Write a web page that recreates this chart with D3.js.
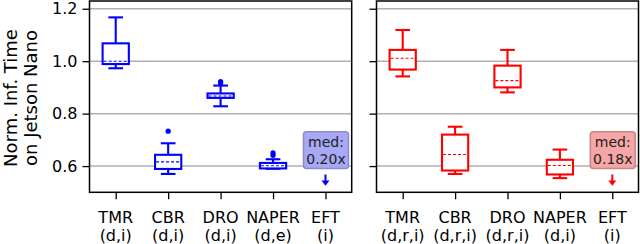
<!DOCTYPE html>
<html>
<head>
<meta charset="utf-8">
<script src="https://cdn.jsdelivr.net/npm/d3@7"></script>
<style>
  body { margin: 0; background: #fff; }
  svg { display: block; font-family: "DejaVu Sans", sans-serif; }
</style>
</head>
<body>
<div id="chart"></div>
<script>
// categories + sub labels
const categories = ["TMR", "CBR", "DRO", "NAPER", "EFT"];
const leftSub = ["(d,i)", "(d,i)", "(d,i)", "(d,e)", "(i)"];
const rightSub = ["(d,r,i)", "(d,r,i)", "(d,r,i)", "(d,i)", "(i)"];
const yTicks = [0.6, 0.8, 1.0, 1.2];

// box stats: [whisker low, q1, median, q3, whisker high]
const leftBoxes = [
  [0.973, 0.989, 1.000, 1.068, 1.167],
  [0.570, 0.589, 0.616, 0.643, 0.687],
  [0.828, 0.860, 0.867, 0.877, 0.907],
  [0.590, 0.591, 0.601, 0.612, 0.626],
  null
];
const leftOutliers = [[], [0.733], [0.917, 0.922], [0.641, 0.650], []];

const rightBoxes = [
  [0.942, 0.968, 1.011, 1.043, 1.119],
  [0.570, 0.583, 0.644, 0.720, 0.750],
  [0.881, 0.900, 0.926, 0.983, 1.043],
  [0.554, 0.568, 0.602, 0.624, 0.663],
  null
];
const rightOutliers = [[], [], [], [], []];

// EFT median lies far below the axis -> shown as a note
const leftNote = ["med:", "0.20x"];
const rightNote = ["med:", "0.18x"];

const W = 640, H = 244;
const plotTop = 1, plotBottom = 192.3;

const svg = d3.select("#chart").append("svg")
  .attr("width", W).attr("height", H);

const y = d3.scaleLinear().domain([0.5, 1.2295]).range([plotBottom, plotTop]);

function panel(x0, x1, boxes, outliers, subs, note, color, fill, edge, showLabels) {
  const x = d3.scaleLinear().domain([0.5, 5.5]).range([x0, x1]);
  const g = svg.append("g");
  const bw = x(1.25) - x(1);   // half box width
  const cw = x(1.14) - x(1);   // half cap width

  // grid
  g.selectAll(".grid").data(yTicks).enter().append("line")
    .attr("x1", x0).attr("x2", x1)
    .attr("y1", d => y(d)).attr("y2", d => y(d))
    .attr("stroke", "#b0b0b0").attr("stroke-width", 1.5);

  // y axis ticks
  const ya = g.append("g").attr("transform", `translate(${x0},0)`)
    .call(d3.axisLeft(y).tickValues(yTicks).tickSize(7).tickPadding(5)
      .tickFormat(showLabels ? d3.format(".1f") : ""));
  ya.select(".domain").remove();
  ya.selectAll("line").attr("stroke", "#000").attr("stroke-width", 1.3);
  ya.selectAll("text").attr("font-size", 16).attr("fill", "#000")
    .attr("font-family", "DejaVu Sans");

  // x axis ticks
  const xa = g.append("g").attr("transform", `translate(0,${plotBottom})`)
    .call(d3.axisBottom(x).tickValues([1, 2, 3, 4, 5]).tickSize(7).tickFormat(""));
  xa.select(".domain").remove();
  xa.selectAll("line").attr("stroke", "#000").attr("stroke-width", 1.3);

  categories.forEach((c, i) => {
    g.append("text").attr("x", x(i + 1)).attr("y", 222.5)
      .attr("text-anchor", "middle").attr("font-size", 16).attr("fill", "#000").text(c);
    g.append("text").attr("x", x(i + 1)).attr("y", 240.5)
      .attr("text-anchor", "middle").attr("font-size", 16).attr("fill", "#000").text(subs[i]);
  });

  // boxes
  boxes.forEach((b, i) => {
    if (!b) return;
    const cx = x(i + 1);
    const bg = g.append("g").attr("stroke", color).attr("fill", "none");
    bg.append("line").attr("x1", cx).attr("x2", cx).attr("y1", y(b[0])).attr("y2", y(b[1])).attr("stroke-width", 2.1);
    bg.append("line").attr("x1", cx).attr("x2", cx).attr("y1", y(b[3])).attr("y2", y(b[4])).attr("stroke-width", 2.1);
    bg.append("line").attr("x1", cx - cw).attr("x2", cx + cw).attr("y1", y(b[0])).attr("y2", y(b[0])).attr("stroke-width", 2.1);
    bg.append("line").attr("x1", cx - cw).attr("x2", cx + cw).attr("y1", y(b[4])).attr("y2", y(b[4])).attr("stroke-width", 2.1);
    bg.append("rect").attr("x", cx - bw).attr("width", 2 * bw)
      .attr("y", y(b[3])).attr("height", Math.max(0.5, y(b[1]) - y(b[3])))
      .attr("fill", "#fff").attr("stroke-width", 2.1);
    bg.append("line").attr("x1", cx - bw + 1).attr("x2", cx + bw - 1)
      .attr("y1", y(b[2])).attr("y2", y(b[2]))
      .attr("stroke-width", 1.1).attr("stroke-dasharray", "3,2");
    outliers[i].forEach(o => {
      g.append("circle").attr("cx", cx).attr("cy", y(o)).attr("r", 2.6).attr("fill", color);
    });
  });

  // arrow for EFT (value off the axis)
  const ax = x(5);
  g.append("line").attr("x1", ax).attr("x2", ax).attr("y1", y(0.568)).attr("y2", y(0.54))
    .attr("stroke", color).attr("stroke-width", 2);
  g.append("path")
    .attr("d", `M${ax - 4},${y(0.545)} L${ax + 4},${y(0.545)} L${ax},${y(0.525)} Z`)
    .attr("fill", color);

  // note box
  const nx = x(5) + 0.5, ny = y(0.661);
  g.append("rect").attr("x", nx - 22.5).attr("y", ny - 18.3).attr("width", 45).attr("height", 36.6)
    .attr("rx", 3).attr("fill", fill).attr("stroke", edge).attr("stroke-width", 1.5);
  note.forEach((s, k) => {
    g.append("text").attr("x", nx).attr("y", ny - 3.5 + k * 17.5)
      .attr("text-anchor", "middle").attr("font-size", 14).attr("fill", "#222").text(s);
  });

  // frame
  g.append("rect").attr("x", x0).attr("y", plotTop).attr("width", x1 - x0).attr("height", plotBottom - plotTop)
    .attr("fill", "none").attr("stroke", "#000").attr("stroke-width", 1.5);
}

panel(89.5, 351.7, leftBoxes, leftOutliers, leftSub, leftNote, "#0000ff",
  "rgb(168,168,246)", "rgb(140,140,200)", true);
panel(376.5, 638.5, rightBoxes, rightOutliers, rightSub, rightNote, "#ff0000",
  "rgb(246,166,166)", "rgb(200,135,135)", false);

// y label
const yl = svg.append("text").attr("transform", "translate(0,98) rotate(-90)")
  .attr("text-anchor", "middle").attr("font-size", 18).attr("fill", "#000");
yl.append("tspan").attr("x", 0).attr("y", 16.5).text("Norm. Inf. Time");
yl.append("tspan").attr("x", 0).attr("y", 36.5).text("on Jetson Nano");
</script>
</body>
</html>
